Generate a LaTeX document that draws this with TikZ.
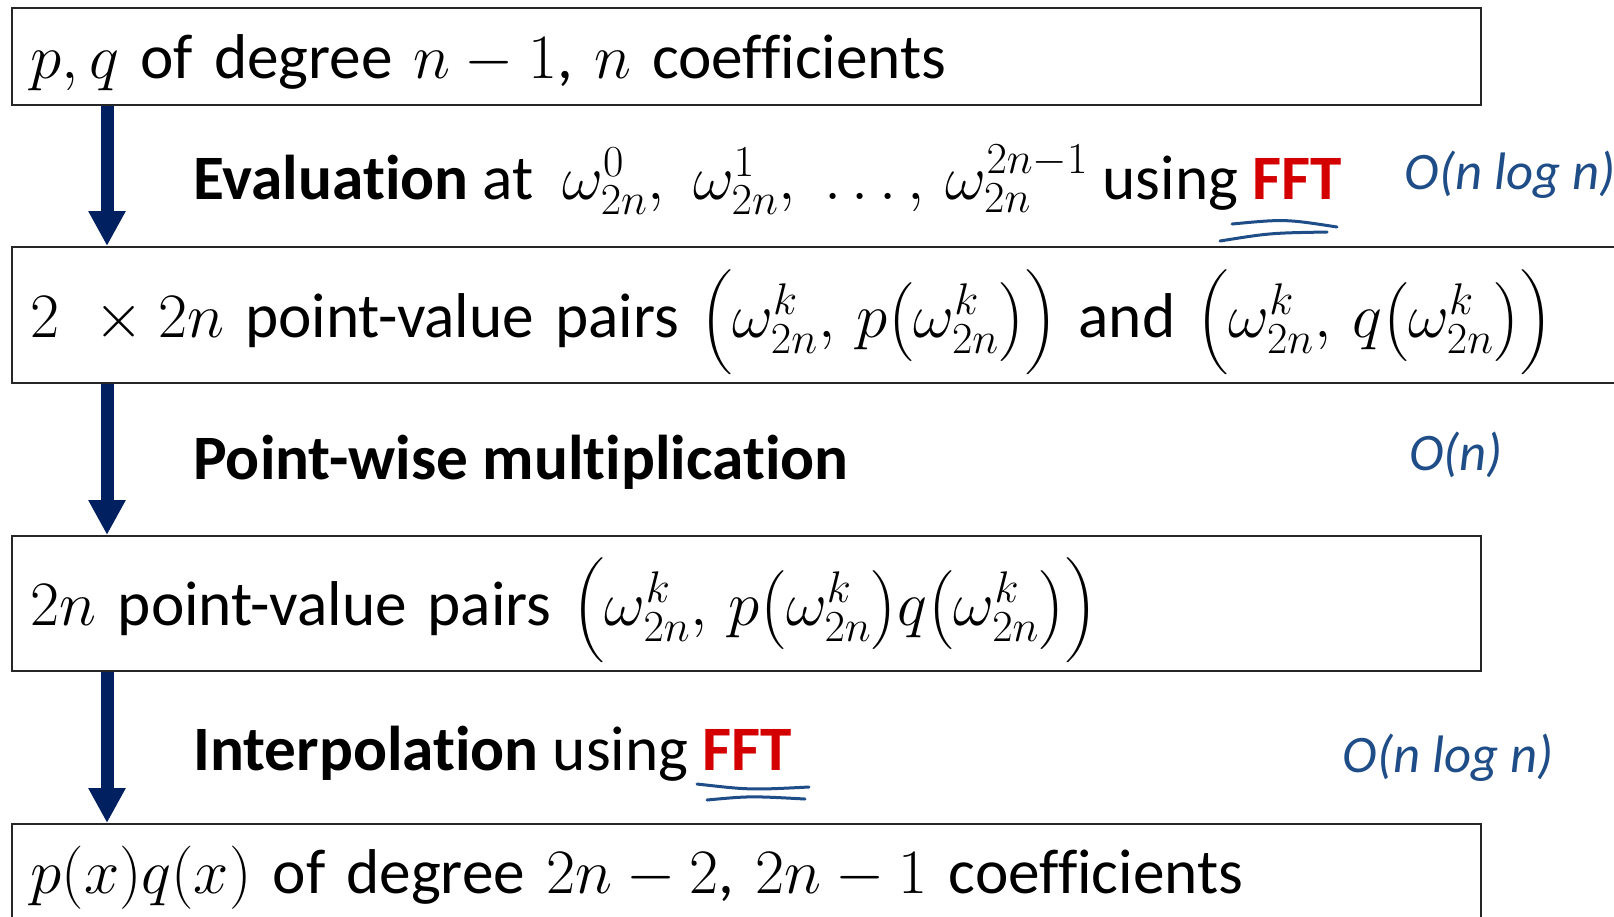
\RequirePackage{fix-cm}
\documentclass[tikz,border=0pt]{standalone}
\usepackage[no-math]{fontspec}
\setmainfont{Carlito}[Ligatures=NoCommon]
\usepackage{amsmath}
\usetikzlibrary{arrows.meta}
\definecolor{arrowblue}{RGB}{0,32,96}
\definecolor{fftred}{RGB}{212,0,0}
\definecolor{inkblue}{RGB}{31,77,135}

\begin{document}
\begin{tikzpicture}[
    box/.style={draw=black!85,line width=0.3mm,anchor=north west,inner xsep=3.8mm,inner ysep=0mm,align=left,font=\fontsize{36}{42}\selectfont},
    steplabel/.style={anchor=base west,inner sep=0mm,font=\fontsize{36}{42}\selectfont},
    flow/.style={draw=arrowblue,line width=2.6mm,-{Triangle[width=7mm,length=7mm]}},
    ink/.style={inkblue,line width=0.6mm,line cap=round},
    note/.style={text=inkblue,inner sep=0mm,font=\fontsize{30}{32}\selectfont\itshape}]
    \useasboundingbox (0,0) rectangle (322.8mm,-183.2mm);

    \node[box,text width=286.2mm,text height=14.2mm,text depth=5.2mm] (coeff) at (2.2mm,-1.4mm)
      {$p, q$ of degree $n-1$, $n$ coefficients};
    \node[box,text width=313.8mm,text height=18.2mm,text depth=9mm] (pairs) at (2.2mm,-49.2mm)
      {$2\ \times 2n$ point-value pairs $\Big(\omega_{2n}^k,\, p\big(\omega_{2n}^k\big)\Big)$ and $\Big(\omega_{2n}^k,\, q\big(\omega_{2n}^k\big)\Big)$};
    \node[box,text width=286.2mm,text height=18mm,text depth=9mm] (prod) at (2.2mm,-107mm)
      {$2n$ point-value pairs $\Big(\omega_{2n}^k,\, p\big(\omega_{2n}^k\big)q\big(\omega_{2n}^k\big)\Big)$};
    \node[box,text width=286.2mm,text height=14mm,text depth=7.4mm] (result) at (2.2mm,-164.6mm)
      {$p(x)q(x)$ of degree $2n-2$, $2n-1$ coefficients};

    \node[steplabel] (evallabel) at (38.6mm,-39.8mm)
      {\textbf{Evaluation} at\ \ $\omega_{2n}^0,\; \omega_{2n}^1,\; \ldots,\, \omega_{2n}^{2n-1}$ using \textcolor{fftred}{\textbf{FFT}}};
    \node[steplabel] (multlabel) at (38.6mm,-95.8mm) {\textbf{Point-wise multiplication}};
    \node[steplabel] (interlabel) at (38.6mm,-154mm) {\textbf{Interpolation} using \textcolor{fftred}{\textbf{FFT}}};

    \coordinate (ax) at (21.4mm,0);
    \draw[flow] (coeff.south -| ax) -- (pairs.north -| ax);
    \draw[flow] (pairs.south -| ax) -- (prod.north -| ax);
    \draw[flow] (prod.south -| ax) -- (result.north -| ax);

    \node[note] (evalcost) at (302mm,-35mm) {O(n log n)};
    \node[note] (multcost) at (291.2mm,-91mm) {O(n)};
    \node[note] (intercost) at (289.6mm,-151.6mm) {O(n log n)};

    \draw[ink] (246.4mm,-44.8mm) .. controls (257mm,-43.8mm) .. (267.4mm,-45.4mm);
    \draw[ink] (244mm,-48.2mm) .. controls (254mm,-46.6mm) .. (265.4mm,-46.4mm);
    \draw[ink] (139.4mm,-156.8mm) .. controls (150mm,-158mm) .. (161.8mm,-157.4mm);
    \draw[ink] (141.4mm,-160mm) .. controls (150mm,-159.2mm) .. (161mm,-159.8mm);
  \end{tikzpicture}
\end{document}
